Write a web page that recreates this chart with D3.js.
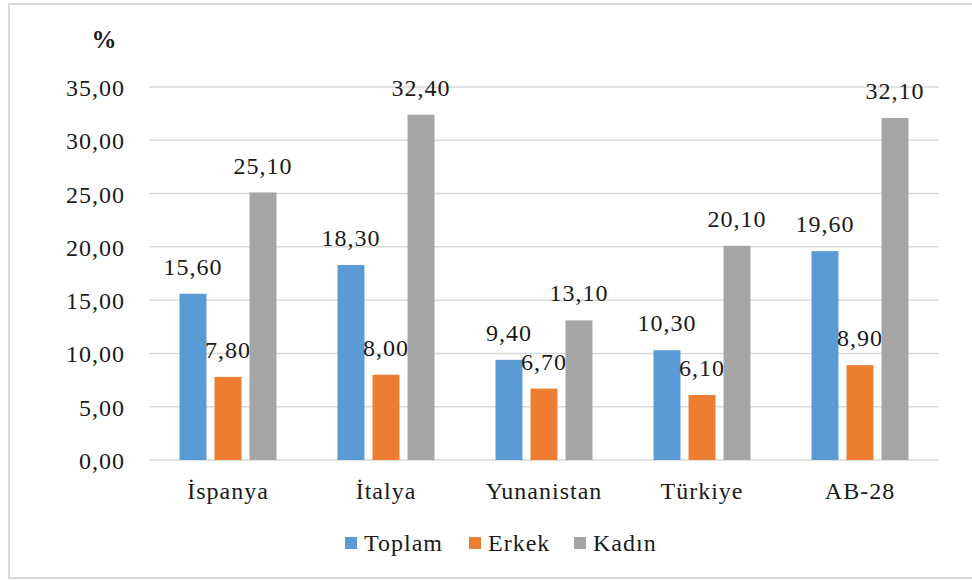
<!DOCTYPE html>
<html>
<head>
<meta charset="utf-8">
<script src="https://cdn.jsdelivr.net/npm/d3@7"></script>
<style>
  body { margin: 0; background: #fff; }
  svg { display: block; font-family: "Liberation Serif", "Times New Roman", serif; }
</style>
</head>
<body>
<div id="chart"></div>
<script>
// data
const countries = ["İspanya", "İtalya", "Yunanistan", "Türkiye", "AB-28"];
const seriesNames = ["Toplam", "Erkek", "Kadın"];
const toplam = [15.6, 18.3, 9.4, 10.3, 19.6];
const erkek = [7.8, 8.0, 6.7, 6.1, 8.9];
const kadin = [25.1, 32.4, 13.1, 20.1, 32.1];
const yTicks = [0, 5, 10, 15, 20, 25, 30, 35];
const colors = ["#5B9BD5", "#ED7D31", "#A5A5A5"];

const width = 972, height = 580;
const plot = {left: 149, right: 939, top: 87, bottom: 460};

const fmt = v => d3.format(".2f")(v).replace(".", ",");

const svg = d3.select("#chart").append("svg")
    .attr("width", width)
    .attr("height", height);

// outer frame
svg.append("rect")
    .attr("x", 9).attr("y", 4)
    .attr("width", 975).attr("height", 574)
    .attr("fill", "none")
    .attr("stroke", "#d9d9d9")
    .attr("stroke-width", 2);

const y = d3.scaleLinear().domain([0, 35]).range([plot.bottom, plot.top]);
const x0 = d3.scaleBand().domain(countries).range([plot.left, plot.right]);
const x1 = d3.scaleBand().domain(seriesNames).range([-48.5, 48.5]).paddingInner(0.23);

// gridlines
svg.append("g")
  .selectAll("line")
  .data(yTicks)
  .join("line")
    .attr("x1", plot.left).attr("x2", plot.right)
    .attr("y1", d => y(d)).attr("y2", d => y(d))
    .attr("stroke", "#d9d9d9")
    .attr("stroke-width", 1.5);

// y tick labels
svg.append("g")
  .selectAll("text")
  .data(yTicks)
  .join("text")
    .attr("x", 125)
    .attr("y", d => y(d) + 9)
    .attr("text-anchor", "end")
    .attr("font-size", 24)
    .attr("letter-spacing", 1)
    .attr("fill", "#1a1a1a")
    .text(fmt);

svg.append("text")
    .attr("x", 104).attr("y", 48)
    .attr("text-anchor", "middle")
    .attr("font-size", 25)
    .attr("font-weight", "bold")
    .attr("fill", "#1a1a1a")
    .text("%");

const rows = countries.map((c, i) => ({
  country: c,
  values: [toplam[i], erkek[i], kadin[i]]
}));

const group = svg.append("g")
  .selectAll("g")
  .data(rows)
  .join("g")
    .attr("transform", d => `translate(${x0(d.country) + x0.bandwidth() / 2},0)`);

const bars = group.selectAll("g")
  .data(d => d.values.map((v, j) => ({name: seriesNames[j], value: v, j})))
  .join("g");

bars.append("rect")
    .attr("x", d => x1(d.name))
    .attr("y", d => y(d.value))
    .attr("width", x1.bandwidth())
    .attr("height", d => y(0) - y(d.value))
    .attr("fill", d => colors[d.j]);

bars.append("text")
    .attr("x", d => x1(d.name) + x1.bandwidth() / 2)
    .attr("y", d => y(d.value) - 19)
    .attr("text-anchor", "middle")
    .attr("font-size", 24)
    .attr("letter-spacing", 1)
    .attr("fill", "#1a1a1a")
    .text(d => fmt(d.value));

// category labels
svg.append("g")
  .selectAll("text")
  .data(countries)
  .join("text")
    .attr("x", d => x0(d) + x0.bandwidth() / 2)
    .attr("y", 499)
    .attr("text-anchor", "middle")
    .attr("font-size", 24)
    .attr("letter-spacing", 1)
    .attr("fill", "#1a1a1a")
    .text(d => d);

// legend
const legendX = [345, 469, 574];
const legend = svg.append("g")
  .selectAll("g")
  .data(seriesNames)
  .join("g")
    .attr("transform", (d, i) => `translate(${legendX[i]},537)`);

legend.append("rect")
    .attr("width", 12).attr("height", 12)
    .attr("fill", (d, i) => colors[i]);

legend.append("text")
    .attr("x", 19).attr("y", 14)
    .attr("font-size", 24)
    .attr("letter-spacing", 1)
    .attr("fill", "#1a1a1a")
    .text(d => d);
</script>
</body>
</html>
